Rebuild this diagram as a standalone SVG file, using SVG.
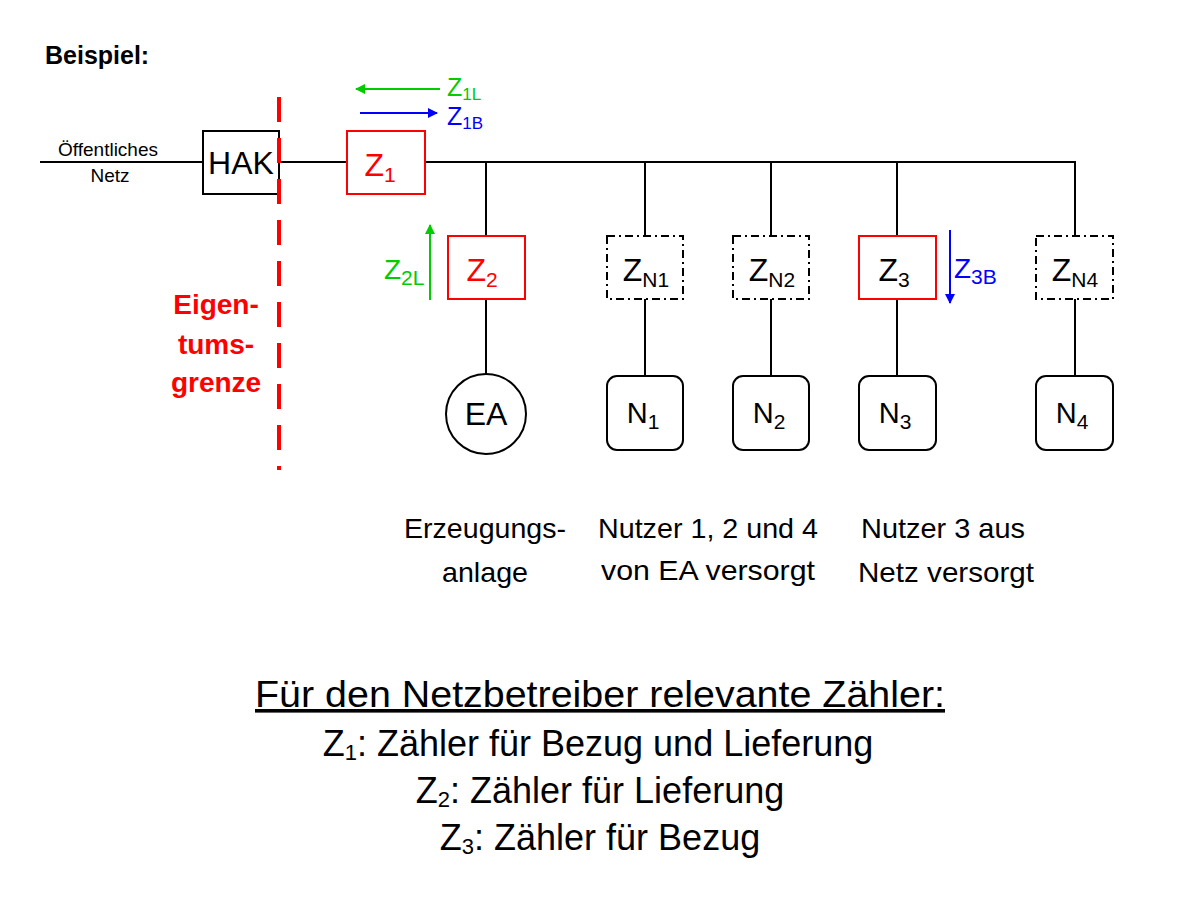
<svg xmlns="http://www.w3.org/2000/svg" width="1200" height="900" viewBox="0 0 1200 900">
<style>
text{font-family:"Liberation Sans",Arial,sans-serif}
.ln{stroke:#000;stroke-width:2;fill:none}
.red{fill:#fff;stroke:#f00;stroke-width:2}
.dd{fill:#fff;stroke:#000;stroke-width:2;stroke-dasharray:8 4 2 4}
.nb{fill:#fff;stroke:#000;stroke-width:2}
.m{font-size:32px;text-anchor:middle}
.s{font-size:21px}
.n{font-size:28px;text-anchor:middle}
.b{font-size:29px;text-anchor:middle}
.t{font-size:36px;text-anchor:middle}
</style>
<defs>
<marker id="ag" viewBox="0 0 10 10" refX="9" refY="5" markerWidth="5" markerHeight="5" orient="auto"><path d="M0,0L10,5L0,10z" fill="#0c0"/></marker>
<marker id="ab" viewBox="0 0 10 10" refX="9" refY="5" markerWidth="5" markerHeight="5" orient="auto"><path d="M0,0L10,5L0,10z" fill="#00f"/></marker>
</defs>
<text x="45" y="64" font-size="25" font-weight="bold">Beispiel:</text>
<g id="connectors">
<path class="ln" d="M40 162H1076M486 162V236M486 299V375M645 162V236M645 299V376M771 162V236M771 299V376M897 162V236M897 299V376M1075 162V236M1075 299V376"/>
<line x1="440" y1="89" x2="356" y2="89" stroke="#0c0" stroke-width="2" marker-end="url(#ag)"/>
<line x1="360" y1="113" x2="437" y2="113" stroke="#00f" stroke-width="2" marker-end="url(#ab)"/>
<line x1="430" y1="300" x2="430" y2="225" stroke="#0c0" stroke-width="2" marker-end="url(#ag)"/>
<line x1="950" y1="230" x2="950" y2="303" stroke="#00f" stroke-width="2" marker-end="url(#ab)"/>
</g>
<text x="108" y="156" font-size="19" text-anchor="middle">Öffentliches</text>
<text x="110" y="182" font-size="19" text-anchor="middle">Netz</text>
<g id="HAK"><rect x="203" y="131" width="76" height="63" class="nb"/><text x="241" y="174" class="m">HAK</text></g>
<g id="Z1"><rect x="347" y="131" width="78" height="63" class="red"/><text x="380" y="176" class="m" fill="#f00">Z<tspan class="s" dy="6">1</tspan></text></g>
<line x1="279" y1="97" x2="279" y2="470" stroke="#f00" stroke-width="4" stroke-dasharray="25 16"/>
<text x="447" y="96" font-size="25" fill="#0c0">Z<tspan font-size="17" dy="4">1L</tspan></text>
<text x="447" y="125" font-size="25" fill="#00f">Z<tspan font-size="17" dy="4">1B</tspan></text>
<text x="384" y="279" font-size="28" fill="#0c0">Z<tspan class="s" dy="6">2L</tspan></text>
<text x="954" y="278" font-size="28" fill="#00f">Z<tspan class="s" dy="6">3B</tspan></text>
<g id="Z2"><rect x="448" y="236" width="77" height="63" class="red"/><text x="482" y="281" class="m" fill="#f00">Z<tspan class="s" dy="6">2</tspan></text></g>
<g id="ZN1"><rect x="607" y="236" width="76" height="63" class="dd"/><text x="646" y="281" class="m">Z<tspan class="s" dy="6">N1</tspan></text></g>
<g id="ZN2"><rect x="733" y="236" width="76" height="63" class="dd"/><text x="772" y="281" class="m">Z<tspan class="s" dy="6">N2</tspan></text></g>
<g id="Z3"><rect x="859" y="236" width="77" height="63" class="red"/><text x="894" y="281" class="m">Z<tspan class="s" dy="6">3</tspan></text></g>
<g id="ZN4"><rect x="1036" y="236" width="77" height="63" class="dd"/><text x="1075" y="281" class="m">Z<tspan class="s" dy="6">N4</tspan></text></g>
<g id="EA"><circle cx="486" cy="414" r="40" class="nb"/><text x="486" y="425" class="m">EA</text></g>
<g id="N1"><rect x="607" y="376" width="76" height="74" rx="10" class="nb"/><text x="643" y="423" class="b">N<tspan class="s" dy="6">1</tspan></text></g>
<g id="N2"><rect x="733" y="376" width="76" height="74" rx="10" class="nb"/><text x="769" y="423" class="b">N<tspan class="s" dy="6">2</tspan></text></g>
<g id="N3"><rect x="859" y="376" width="77" height="74" rx="10" class="nb"/><text x="895" y="423" class="b">N<tspan class="s" dy="6">3</tspan></text></g>
<g id="N4"><rect x="1036" y="376" width="77" height="74" rx="10" class="nb"/><text x="1072" y="423" class="b">N<tspan class="s" dy="6">4</tspan></text></g>
<text x="216" y="314" font-size="28" font-weight="bold" fill="#f00" text-anchor="middle">Eigen-</text>
<text x="216" y="354" font-size="28" font-weight="bold" fill="#f00" text-anchor="middle">tums-</text>
<text x="216" y="392" font-size="28" font-weight="bold" fill="#f00" text-anchor="middle">grenze</text>
<text x="485" y="538" class="n" textLength="162" lengthAdjust="spacingAndGlyphs">Erzeugungs-</text>
<text x="485" y="582" class="n" textLength="86" lengthAdjust="spacingAndGlyphs">anlage</text>
<text x="708" y="538" class="n" textLength="220" lengthAdjust="spacingAndGlyphs">Nutzer 1, 2 und 4</text>
<text x="708" y="580" class="n" textLength="214" lengthAdjust="spacingAndGlyphs">von EA versorgt</text>
<text x="943" y="538" class="n" textLength="164" lengthAdjust="spacingAndGlyphs">Nutzer 3 aus</text>
<text x="946" y="582" class="n" textLength="176" lengthAdjust="spacingAndGlyphs">Netz versorgt</text>
<text x="600" y="707" class="t" text-decoration="underline" textLength="690" lengthAdjust="spacingAndGlyphs">Für den Netzbetreiber relevante Zähler:</text>
<text x="598" y="756" class="t">Z<tspan font-size="22" dy="4">1</tspan><tspan dy="-4">: Zähler für Bezug und Lieferung</tspan></text>
<text x="600" y="803" class="t">Z<tspan font-size="22" dy="4">2</tspan><tspan dy="-4">: Zähler für Lieferung</tspan></text>
<text x="600" y="850" class="t">Z<tspan font-size="22" dy="4">3</tspan><tspan dy="-4">: Zähler für Bezug</tspan></text>
</svg>
